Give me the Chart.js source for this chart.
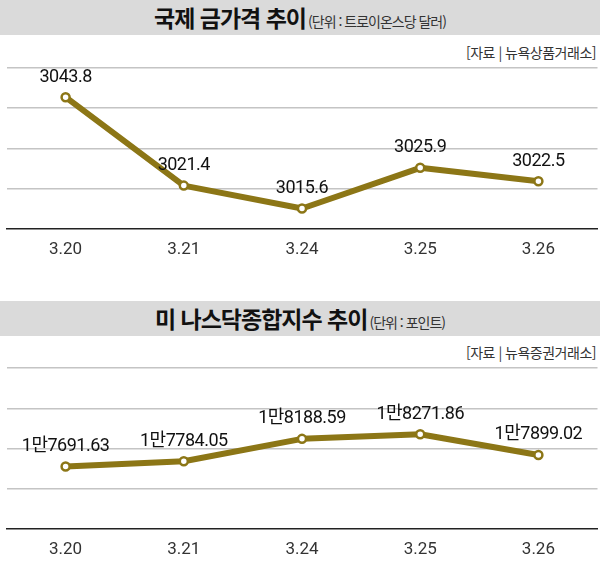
<!DOCTYPE html>
<html lang="ko">
<head>
<meta charset="utf-8">
<title>국제 금가격 / 나스닥 추이</title>
<script src="https://cdn.jsdelivr.net/npm/chart.js@4.4.1/dist/chart.umd.min.js"></script>
<style>
  html, body { margin: 0; padding: 0; background: #fff; overflow: hidden; }
  body { width: 600px; height: 588px; position: relative; }
  .band {
    position: absolute; left: 0; width: 600px; height: 35px;
    background: #dadada; display: flex; align-items: center; justify-content: center;
  }
  .band .t { line-height: 1; white-space: nowrap; font-family: "Noto Sans CJK KR", sans-serif; }
  .band .main { font-weight: 700; font-size: 23px; letter-spacing: -1px; color: #111; }
  .band .unit { font-size: 14px; letter-spacing: -1px; color: #333; margin-left: 2px; }
  .source {
    position: absolute; right: 4px; line-height: 20px;
    font-family: "Noto Sans CJK KR", sans-serif; font-size: 14px; letter-spacing: -0.5px; color: #333;
  }
  .box { position: absolute; left: 0; width: 604px; height: 210px; }
</style>
</head>
<body>

<div class="band" style="top:0"><div class="t"><span class="main">국제 금가격 추이</span><span class="unit">(단위 : 트로이온스당 달러)</span></div></div>
<div class="source" style="top:42px">[자료 | 뉴욕상품거래소]</div>
<div class="box" style="top:60px"><canvas id="goldChart" width="604" height="210"></canvas></div>

<div class="band" style="top:301px"><div class="t"><span class="main">미 나스닥종합지수 추이</span><span class="unit">(단위 : 포인트)</span></div></div>
<div class="source" style="top:342px">[자료 | 뉴욕증권거래소]</div>
<div class="box" style="top:360px"><canvas id="nasdaqChart" width="604" height="210"></canvas></div>

<script>
const dates = ["3.20", "3.21", "3.24", "3.25", "3.26"];
const goldPrices = [3043.8, 3021.4, 3015.6, 3025.9, 3022.5];
const nasdaqIndex = [17691.63, 17784.05, 18188.59, 18271.86, 17899.02];

const lineColor = "#8c7616";

function goldLabel(v) {
  return v.toFixed(1);
}

// 1만7691.63 style
function manLabel(v) {
  return Math.floor(v / 10000) + "만" + (v % 10000).toFixed(2);
}

function valueLabels(format) {
  return {
    id: "valueLabels",
    afterDatasetsDraw(chart) {
      const ctx = chart.ctx;
      const meta = chart.getDatasetMeta(0);
      const values = chart.data.datasets[0].data;
      ctx.save();
      ctx.font = '18px Roboto, "Noto Sans CJK KR", sans-serif';
      ctx.letterSpacing = "-0.5px";
      ctx.fillStyle = "#111";
      ctx.textAlign = "center";
      ctx.textBaseline = "middle";
      meta.data.forEach((pt, i) => {
        ctx.fillText(format(values[i]), pt.x, pt.y - 20);
      });
      ctx.restore();
    },
  };
}

function createLineChart(id, values, yMin, yMax, yStep, format) {
  const ctx = document.getElementById(id).getContext("2d");
  return new Chart(ctx, {
    type: "line",
    data: {
      labels: dates,
      datasets: [
        {
          data: values,
          borderColor: lineColor,
          borderWidth: 6,
          borderCapStyle: "round",
          borderJoinStyle: "round",
          tension: 0,
          pointRadius: 4,
          pointBorderWidth: 2.5,
          pointBackgroundColor: "#fff",
          pointBorderColor: lineColor,
        },
      ],
    },
    options: {
      responsive: false,
      animation: false,
      layout: { padding: { top: 8, left: 2, right: 0, bottom: 0 } },
      plugins: {
        legend: { display: false },
        tooltip: { enabled: false },
      },
      scales: {
        x: {
          offset: true,
          grid: { display: false, drawTicks: false },
          border: { color: "#222", width: 1.5 },
          ticks: {
            padding: 11,
            color: "#333",
            font: { family: "Roboto", size: 17 },
          },
          afterFit: (scale) => { scale.height = 41; },
        },
        y: {
          min: yMin,
          max: yMax,
          ticks: { display: false, stepSize: yStep },
          grid: {
            drawTicks: false,
            lineWidth: 1.5,
            color: (c) => (c.index === 0 ? "rgba(0,0,0,0)" : "#c4c4c4"),
          },
          border: { display: false },
          afterFit: (scale) => { scale.width = 0; },
        },
      },
    },
    plugins: [valueLabels(format)],
  });
}

document.addEventListener("DOMContentLoaded", function () {
  createLineChart("goldChart", goldPrices, 3010.4, 3051.2, 10.2, goldLabel);
  createLineChart("nasdaqChart", nasdaqIndex, 16565, 19465, 725, manLabel);
});
</script>
</body>
</html>
